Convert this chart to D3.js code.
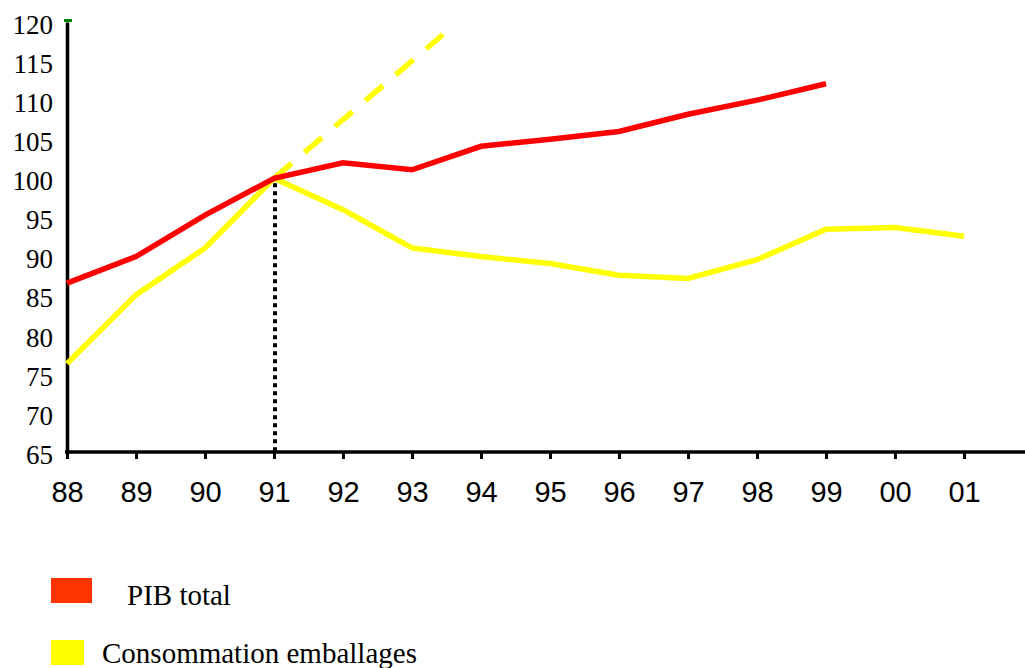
<!DOCTYPE html>
<html>
<head>
<meta charset="utf-8">
<script src="https://cdn.jsdelivr.net/npm/d3@7"></script>
<style>
  body { margin: 0; background: #fff; }
  svg { display: block; }
</style>
</head>
<body>
<svg id="drawing_region"></svg>
<script>
// years on the x axis
const years = ['88', '89', '90', '91', '92', '93', '94', '95', '96', '97', '98', '99', '00', '01'];
const yTicks = [65, 70, 75, 80, 85, 90, 95, 100, 105, 110, 115, 120];

// index 100 in 1991
const pibTotal = [86.6, 90.0, 95.3, 100.0, 102.0, 101.1, 104.1, 105.0, 106.0, 108.2, 110.0, 112.1];
const consoEmballages = [76.3, 85.1, 91.1, 100.0, 96.0, 91.1, 90.0, 89.1, 87.6, 87.2, 89.6, 93.5, 93.7, 92.6];
// dashed trend of packaging use, [year index, value]
const trendIndex = [3, 5.45];
const trendValue = [100, 118.4];
const markerYear = '91';

const legendLabels = ['PIB total', 'Consommation emballages'];
const legendColors = ['#ff3300', '#ffff00'];

class indexChart {
    constructor(config) {
        this.config = {
            parent: config.parent,
            width: config.width || 1025,
            height: config.height || 668,
            margin: config.margin || { top: 22, right: 0, bottom: 216, left: 67 }
        };
        this.init();
    }

    init() {
        let self = this;
        self.svg = d3.select(self.config.parent)
            .attr('width', self.config.width)
            .attr('height', self.config.height);
        self.chart = self.svg.append('g');

        self.xscale = d3.scaleLinear()
            .domain([0, years.length - 1])
            .range([self.config.margin.left, 964]);
        self.yscale = d3.scaleLinear()
            .domain([65, 120])
            .range([self.config.height - self.config.margin.bottom, self.config.margin.top]);
        self.y0 = self.yscale(65);
    }

    render() {
        let self = this;
        const x = self.xscale, y = self.yscale;

        // y axis
        const yaxis = d3.axisLeft(y).tickValues(yTicks).tickSize(0).tickPadding(14).tickSizeOuter(0);
        const yg = self.chart.append('g')
            .attr('transform', `translate(${x(0)},0)`)
            .call(yaxis);
        yg.select('.domain').attr('stroke', '#000').attr('stroke-width', 3.5);
        yg.selectAll('.tick text')
            .attr('font-family', '"Liberation Serif", "Times New Roman", serif')
            .attr('font-size', 27)
            .attr('fill', '#000')
            .attr('dy', '0.42em');
        // little green mark at the top of the axis
        self.chart.append('rect')
            .attr('x', x(0) - 3).attr('y', y(120) - 3)
            .attr('width', 8).attr('height', 3)
            .attr('fill', '#008000');

        // x axis
        const xaxis = d3.axisBottom(x).tickValues(d3.range(years.length))
            .tickFormat(i => years[i]).tickSize(7).tickSizeOuter(0);
        const xg = self.chart.append('g')
            .attr('transform', `translate(0,${self.y0})`)
            .call(xaxis);
        xg.select('.domain').remove();
        xg.append('line')
            .attr('x1', x(0) - 2).attr('x2', self.config.width)
            .attr('stroke', '#000').attr('stroke-width', 3.5);
        xg.selectAll('.tick line').attr('stroke', '#000').attr('stroke-width', 3);
        xg.selectAll('.tick text')
            .attr('font-family', '"Liberation Sans", Arial, sans-serif')
            .attr('font-size', 29)
            .attr('fill', '#000')
            .attr('y', 50).attr('dy', 0);

        // dotted marker at 1991
        const mi = years.indexOf(markerYear);
        self.chart.append('line')
            .attr('x1', x(mi) + 1).attr('x2', x(mi) + 1)
            .attr('y1', y(100) + 5).attr('y2', self.y0)
            .attr('stroke', '#000').attr('stroke-width', 4)
            .attr('stroke-dasharray', '4 4');

        const line = d3.line().x(d => x(d[0])).y(d => y(d[1]));

        // dashed trend
        self.chart.append('path')
            .datum(trendIndex.map((d, i) => [d, trendValue[i]]))
            .attr('d', line)
            .attr('fill', 'none')
            .attr('stroke', '#ffff00')
            .attr('stroke-width', 5.5)
            .attr('stroke-dasharray', '23 17');

        self.chart.append('path')
            .datum(consoEmballages.map((v, i) => [i, v]))
            .attr('d', line)
            .attr('fill', 'none')
            .attr('stroke', '#ffff00')
            .attr('stroke-width', 5.5);

        self.chart.append('path')
            .datum(pibTotal.map((v, i) => [i, v]))
            .attr('d', line)
            .attr('fill', 'none')
            .attr('stroke', '#ff0000')
            .attr('stroke-width', 5.5);

        // legend
        const legend = [
            { label: legendLabels[0], color: legendColors[0], ry: 578, rw: 41, tx: 127, ty: 605 },
            { label: legendLabels[1], color: legendColors[1], ry: 640, rw: 33, tx: 102, ty: 663 }
        ];
        legend.forEach(d => {
            self.svg.append('rect')
                .attr('x', 51).attr('y', d.ry)
                .attr('width', d.rw).attr('height', 25)
                .attr('fill', d.color);
            self.svg.append('text')
                .attr('x', d.tx).attr('y', d.ty)
                .attr('font-family', '"Liberation Serif", "Times New Roman", serif')
                .attr('font-size', 29)
                .attr('fill', '#000')
                .text(d.label);
        });
    }
}

const chart = new indexChart({ parent: '#drawing_region', width: 1025, height: 668 });
chart.render();
</script>
</body>
</html>
